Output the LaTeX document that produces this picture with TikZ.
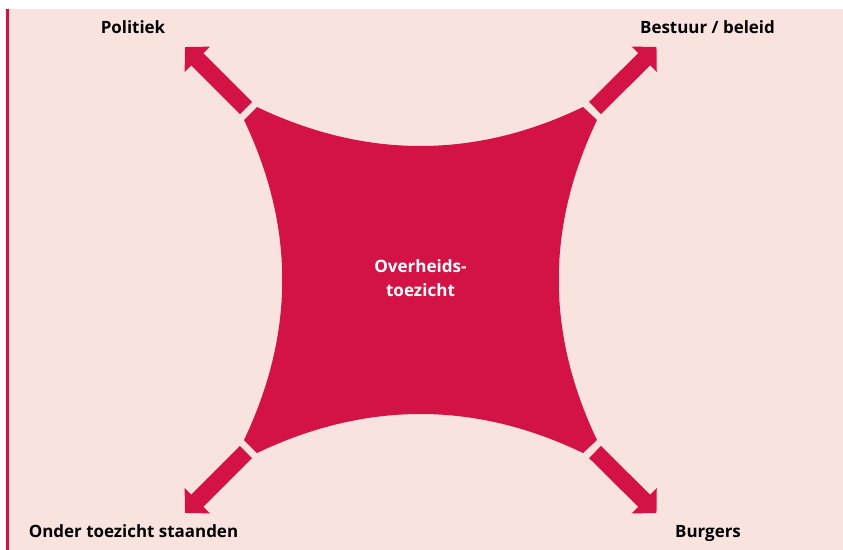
\documentclass[tikz,border=0pt]{standalone}
\usepackage{fontspec}
\setmainfont{Open Sans}[Ligatures=NoCommon]
\usetikzlibrary{arrows.meta}

\definecolor{toezichtrood}{RGB}{211,18,69}
\definecolor{toezichtroze}{RGB}{249,227,223}

\tikzset{
  pijl/.style={draw=toezichtrood, line width=12.75pt,
    -{Triangle[length=13pt,width=26pt]}},
  label/.style={anchor=base, inner sep=0pt, font=\fontsize{12.7}{15}\selectfont\bfseries}
}

\begin{document}
\begin{tikzpicture}[x=0.75pt,y=0.75pt,yscale=-1,xscale=1]
        \useasboundingbox (0,0) rectangle (843,550);

        % achtergrond
        \fill [white] (0,0) rectangle (843,550);
        \fill [toezichtroze] (6,9) rectangle (843,550);
        \fill [toezichtrood] (6,9) rectangle (8.5,550);

        % vlak overheidstoezicht
        \fill [toezichtrood] (257,107) .. controls (366,159) and (475,159) .. (583,107)
            -- (597,120) .. controls (546,227) and (546,333) .. (597,440)
            -- (583,453) .. controls (475,401) and (366,401) .. (257,453)
            -- (244,440) .. controls (295,333) and (295,227) .. (244,120) -- cycle;
        \node (toezicht) at (420.5,278) [align=center, text=white, inner sep=0pt,
            font=\fontsize{12.8}{18}\selectfont\bfseries] {Overheids-\\toezicht};

        % pijlen
        \coordinate (tl) at (246,108);
        \coordinate (tr) at (595,108);
        \coordinate (bl) at (246,452);
        \coordinate (br) at (595,452);
        \coordinate (pol) at (185,47);
        \coordinate (bes) at (656.5,47);
        \coordinate (ond) at (185,513);
        \coordinate (bur) at (656.5,513);
        \draw [pijl] (tl) -- (pol);
        \draw [pijl] (tr) -- (bes);
        \draw [pijl] (bl) -- (ond);
        \draw [pijl] (br) -- (bur);

        % teksten
        \node (politiek) at (133,33) [label] {Politiek};
        \node (bestuur) at (707.5,33) [label] {Bestuur / beleid};
        \node (onder) at (133.5,537) [label] {Onder toezicht staanden};
        \node (burgers) at (708,537) [label] {Burgers};

\end{tikzpicture}
\end{document}
